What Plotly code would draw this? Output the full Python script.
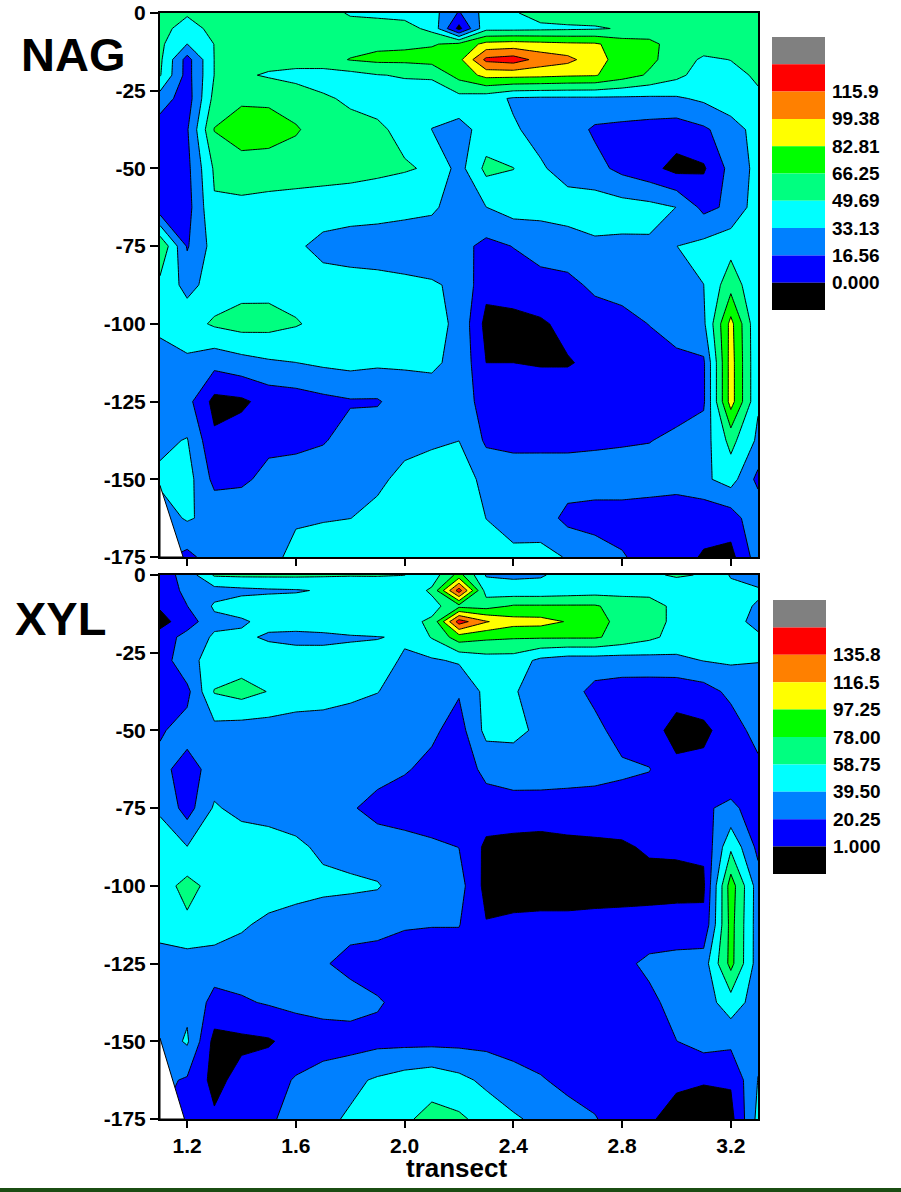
import plotly.graph_objects as go

# ---------------- data ----------------
TRANSECT = [1.1, 1.2, 1.3, 1.4, 1.5, 1.6, 1.7, 1.8, 1.9, 2.0, 2.1, 2.2,
            2.3, 2.4, 2.5, 2.6, 2.7, 2.8, 2.9, 3.0, 3.1, 3.2, 3.3]
DEPTH = [0, -5, -10, -15, -20, -27.5, -37.5, -50, -62.5, -75, -87.5,
         -100, -112.5, -125, -137.5, -150, -162.5, -175]

# rows follow DEPTH (top to bottom), columns follow TRANSECT
NAG = [
    [56, 52, 56, 58, 58, 58, 56, 48, 46, 44, 40, 15, 40, 48, 56, 58, 58, 58, 58, 58, 58, 58, 58],
    [56, 42, 55, 58, 58, 58, 58, 56, 57, 56, 45, -5, 45, 45, 46, 47, 48, 51, 58, 58, 58, 58, 58],
    [53, 33, 50, 57, 57, 57, 57, 60, 63, 64, 65, 70, 88, 90, 88, 86, 85, 75, 70, 60, 58, 58, 58],
    [53, 10, 50, 52, 55, 56, 60, 67, 70, 70, 72, 78, 120, 124, 110, 104, 90, 75, 70, 58, 47, 50, 55],
    [51, 10, 50, 52, 48, 45, 42, 44, 49, 51, 53, 72, 88, 88, 87, 85, 84, 74, 64, 54, 42, 45, 52],
    [25, 8, 55, 63, 63, 58, 52, 47, 45, 42, 36, 44, 40, 31, 30, 30, 30, 30, 30, 31, 36, 44, 47],
    [8, 15, 67, 76, 74, 68, 58, 55, 52, 46, 33, 27, 40, 35, 28, 25, 14, 12, 10, 8, 14, 25, 40],
    [5, 12, 52, 58, 58, 57, 56, 55, 53, 51, 48, 27, 54, 50, 35, 27, 22, 12, 5, -5, -2, 22, 38],
    [5, 10, 48, 46, 44, 43, 42, 41, 40, 38, 36, 25, 33, 40, 38, 40, 42, 40, 38, 33, 12, 20, 42],
    [65, 15, 40, 43, 42, 36, 28, 25, 24, 23, 22, 22, 12, 17, 24, 26, 30, 30, 31, 33, 38, 44, 40],
    [45, 28, 40, 44, 45, 43, 40, 40, 39, 37, 35, 30, 5, 8, 10, 12, 20, 24, 25, 26, 33, 60, 35],
    [36, 43, 52, 56, 55, 51, 45, 44, 42, 40, 38, 30, -5, -5, -2, 4, 8, 10, 17, 24, 30, 88, 35],
    [28, 30, 22, 27, 31, 33, 36, 38, 36, 35, 35, 30, 0, 0, -1, -1, 3, 5, 8, 12, 14, 90, 35],
    [25, 22, -5, -3, 6, 8, 12, 15, 15, 25, 28, 25, 10, 10, 8, 8, 8, 8, 9, 10, 14, 90, 35],
    [30, 34, 3, 8, 12, 12, 15, 24, 27, 30, 31, 33, 14, 12, 13, 13, 14, 15, 16, 20, 25, 55, 30],
    [36, 40, 12, 13, 22, 25, 28, 30, 31, 36, 40, 42, 28, 26, 24, 24, 24, 24, 24, 24, 30, 40, 12],
    [25, 35, 28, 30, 30, 32, 32, 33, 36, 40, 42, 42, 33, 28, 25, 12, 10, 10, 8, 5, 4, 8, 30],
    [20, 12, 25, 28, 30, 36, 42, 44, 44, 42, 40, 40, 38, 36, 38, 32, 25, 18, 10, 4, -1, -5, 25],
]

XYL = [
    [10, 28, 61, 62, 62, 62, 61, 60, 60, 59, 48, 85, 38, 37, 38, 45, 50, 55, 57, 60, 58, 38, 30],
    [8, 25, 32, 35, 37, 38, 41, 44, 46, 46, 62, 145, 50, 46, 46, 48, 50, 52, 54, 52, 50, 45, 42],
    [3, 20, 42, 48, 48, 48, 48, 47, 46, 44, 52, 72, 70, 80, 80, 80, 80, 70, 65, 55, 50, 45, 38],
    [-5, 10, 35, 37, 45, 47, 48, 50, 52, 53, 62, 145, 118, 105, 104, 96, 85, 72, 65, 55, 50, 45, 35],
    [8, 28, 42, 43, 37, 35, 36, 38, 39, 41, 60, 88, 82, 80, 80, 80, 80, 72, 63, 52, 48, 45, 42],
    [8, 36, 44, 49, 50, 48, 46, 45, 44, 38, 37, 42, 50, 50, 35, 30, 30, 30, 32, 35, 40, 42, 40],
    [8, 15, 60, 66, 58, 50, 48, 44, 40, 32, 30, 22, 45, 41, 32, 28, 15, 12, 10, 8, 12, 25, 33],
    [18, 28, 33, 30, 30, 30, 30, 29, 28, 25, 24, 12, 45, 44, 36, 30, 26, 12, 8, -5, -3, 10, 28],
    [26, 12, 28, 30, 30, 30, 30, 28, 26, 22, 15, 10, 25, 30, 32, 30, 28, 24, 21, 5, 6, 8, 15],
    [38, 12, 42, 33, 30, 28, 27, 22, 15, 10, 8, 8, 12, 12, 10, 10, 10, 10, 10, 10, 18, 24, 12],
    [45, 40, 48, 52, 50, 44, 35, 32, 28, 28, 24, 20, -3, -5, -5, -3, -2, -1, 3, 3, 4, 55, 15],
    [50, 65, 52, 52, 50, 48, 45, 43, 41, 30, 28, 28, -5, -8, -8, -8, -6, -5, -4, -3, -2, 88, 30],
    [48, 55, 50, 42, 35, 30, 26, 26, 26, 22, 21, 21, 2, 5, 6, 6, 6, 6, 6, 6, 5, 85, 30],
    [30, 30, 30, 30, 25, 25, 22, 15, 12, 10, 10, 10, 10, 10, 10, 10, 10, 15, 25, 28, 30, 84, 30],
    [32, 35, 14, 18, 22, 25, 28, 28, 22, 15, 10, 10, 10, 10, 10, 10, 10, 12, 15, 28, 30, 50, 30],
    [28, 42, -5, -3, -1, 8, 10, 12, 15, 15, 15, 15, 15, 12, 10, 10, 10, 8, 10, 20, 28, 25, 35],
    [25, 18, -5, 8, 12, 22, 30, 35, 42, 48, 52, 45, 35, 28, 22, 15, 8, 4, 3, 2.5, 2, 3, 40],
    [20, 12, 4, 12, 17, 28, 35, 42, 50, 56, 64, 62, 52, 42, 35, 28, 22, 6, 2, -2, -6, -5, 45],
]

NAG_LEVEL_START, NAG_LEVEL_STEP = 0.0, 16.5625
XYL_LEVEL_START, XYL_LEVEL_STEP = 1.0, 19.25
N_LEVELS = 9

NAG_LEGEND_LABELS = ["115.9", "99.38", "82.81", "66.25", "49.69", "33.13", "16.56", "0.000"]
XYL_LEGEND_LABELS = ["135.8", "116.5", "97.25", "78.00", "58.75", "39.50", "20.25", "1.000"]

# colours of the bands from lowest to highest
BAND_COLORS = ["#000000", "#0000FF", "#0080FF", "#00FFFF", "#00FF80",
               "#00FF00", "#FFFF00", "#FF8000", "#FF0000", "#808080"]

X_TICKS = [1.2, 1.6, 2.0, 2.4, 2.8, 3.2]
Y_TICKS = [0, -25, -50, -75, -100, -125, -150, -175]

# area outside the sampled hull (left bottom corner)
NAG_BLANK = [(1.1, -152), (1.1, -175), (1.185, -175)]
XYL_BLANK = [(1.1, -149), (1.1, -175), (1.19, -175)]

# ---------------- layout helpers ----------------
W, H = 901, 1192
ML, MR, MT, MB = 160, 143, 13, 73
PW, PH = W - ML - MR, H - MT - MB
FONT = "Liberation Sans, Arial, sans-serif"


def px_x(px):
    return (px - ML) / PW


def px_y(py):
    return (H - MB - py) / PH


colorscale = [[i / (len(BAND_COLORS) - 1), c] for i, c in enumerate(BAND_COLORS)]


def contour(z, start, step, xa, ya):
    return go.Contour(
        x=TRANSECT, y=DEPTH[::-1], z=z[::-1],
        xaxis=xa, yaxis=ya,
        autocontour=False,
        contours=dict(start=start, end=start + (N_LEVELS - 1) * step, size=step,
                      coloring="fill", showlines=True),
        line=dict(color="black", width=1, smoothing=0),
        colorscale=colorscale, showscale=False, hoverinfo="skip",
    )


fig = go.Figure()
fig.add_trace(contour(NAG, NAG_LEVEL_START, NAG_LEVEL_STEP, "x", "y"))
fig.add_trace(contour(XYL, XYL_LEVEL_START, XYL_LEVEL_STEP, "x2", "y2"))

top_dom = [1 - 544 / PH, 1]
bot_dom = [0, 544 / PH]

axis_common = dict(showline=True, linecolor="black", linewidth=2, mirror=True,
                   ticks="outside", ticklen=8, tickwidth=1.5, tickcolor="black",
                   showgrid=False, zeroline=False, automargin=False,
                   tickfont=dict(family=FONT, size=21, color="black", weight="bold"))

xcommon = dict(axis_common, range=[1.1, 3.3], tickvals=X_TICKS,
               ticktext=[f"{v:.1f}" for v in X_TICKS], ticklen=7)
ycommon = dict(axis_common, range=[-175, 0], tickvals=Y_TICKS,
               ticktext=[str(v) for v in Y_TICKS])

fig.update_layout(
    template="none",
    width=W, height=H,
    margin=dict(l=ML, r=MR, t=MT, b=MB, autoexpand=False),
    paper_bgcolor="white", plot_bgcolor="white",
    showlegend=False,
    xaxis=dict(xcommon, domain=[0, 1], anchor="y", showticklabels=False),
    yaxis=dict(ycommon, domain=top_dom, anchor="x"),
    xaxis2=dict(xcommon, domain=[0, 1], anchor="y2"),
    yaxis2=dict(ycommon, domain=bot_dom, anchor="x2"),
)

shapes = []
annotations = []

# blank corners
for pts, xr, yr in [(NAG_BLANK, "x", "y"), (XYL_BLANK, "x2", "y2")]:
    path = "M " + " L ".join(f"{x},{y}" for x, y in pts) + " Z"
    shapes.append(dict(type="path", path=path, xref=xr, yref=yr,
                       fillcolor="white", line=dict(color="black", width=1), layer="above"))


# colour legends
def legend(top_px, bottom_px, x0_px, x1_px, labels, label_x_px):
    n = len(BAND_COLORS)
    h = (bottom_px - top_px) / n
    for k in range(n):
        color = BAND_COLORS[n - 1 - k]
        shapes.append(dict(type="rect", xref="paper", yref="paper",
                           x0=px_x(x0_px), x1=px_x(x1_px),
                           y0=px_y(top_px + (k + 1) * h), y1=px_y(top_px + k * h),
                           fillcolor=color, line=dict(width=0), layer="above"))
    for i, lab in enumerate(labels):
        annotations.append(dict(text=lab, xref="paper", yref="paper",
                                x=px_x(label_x_px), y=px_y(top_px + (i + 2) * h),
                                xanchor="left", yanchor="middle", showarrow=False,
                                font=dict(family=FONT, size=19, color="black", weight="bold")))


legend(37, 310, 772, 825, NAG_LEGEND_LABELS, 830)
legend(600, 874, 773, 826, XYL_LEGEND_LABELS, 831)

# panel titles
annotations.append(dict(text="NAG", xref="paper", yref="paper", x=px_x(73), y=px_y(55),
                        xanchor="center", yanchor="middle", showarrow=False,
                        font=dict(family=FONT, size=47, color="black", weight="bold")))
annotations.append(dict(text="XYL", xref="paper", yref="paper", x=px_x(60), y=px_y(618),
                        xanchor="center", yanchor="middle", showarrow=False,
                        font=dict(family=FONT, size=47, color="black", weight="bold")))
annotations.append(dict(text="transect", xref="paper", yref="paper", x=px_x(456), y=px_y(1168),
                        xanchor="center", yanchor="middle", showarrow=False,
                        font=dict(family=FONT, size=26, color="black", weight="bold")))

# bottom bar
shapes.append(dict(type="rect", xref="paper", yref="paper",
                   x0=px_x(0), x1=px_x(W), y0=px_y(1192), y1=px_y(1188),
                   fillcolor="#1B4D13", line=dict(width=0), layer="above"))

fig.update_layout(shapes=shapes, annotations=annotations)
fig.write_html("out.html")
